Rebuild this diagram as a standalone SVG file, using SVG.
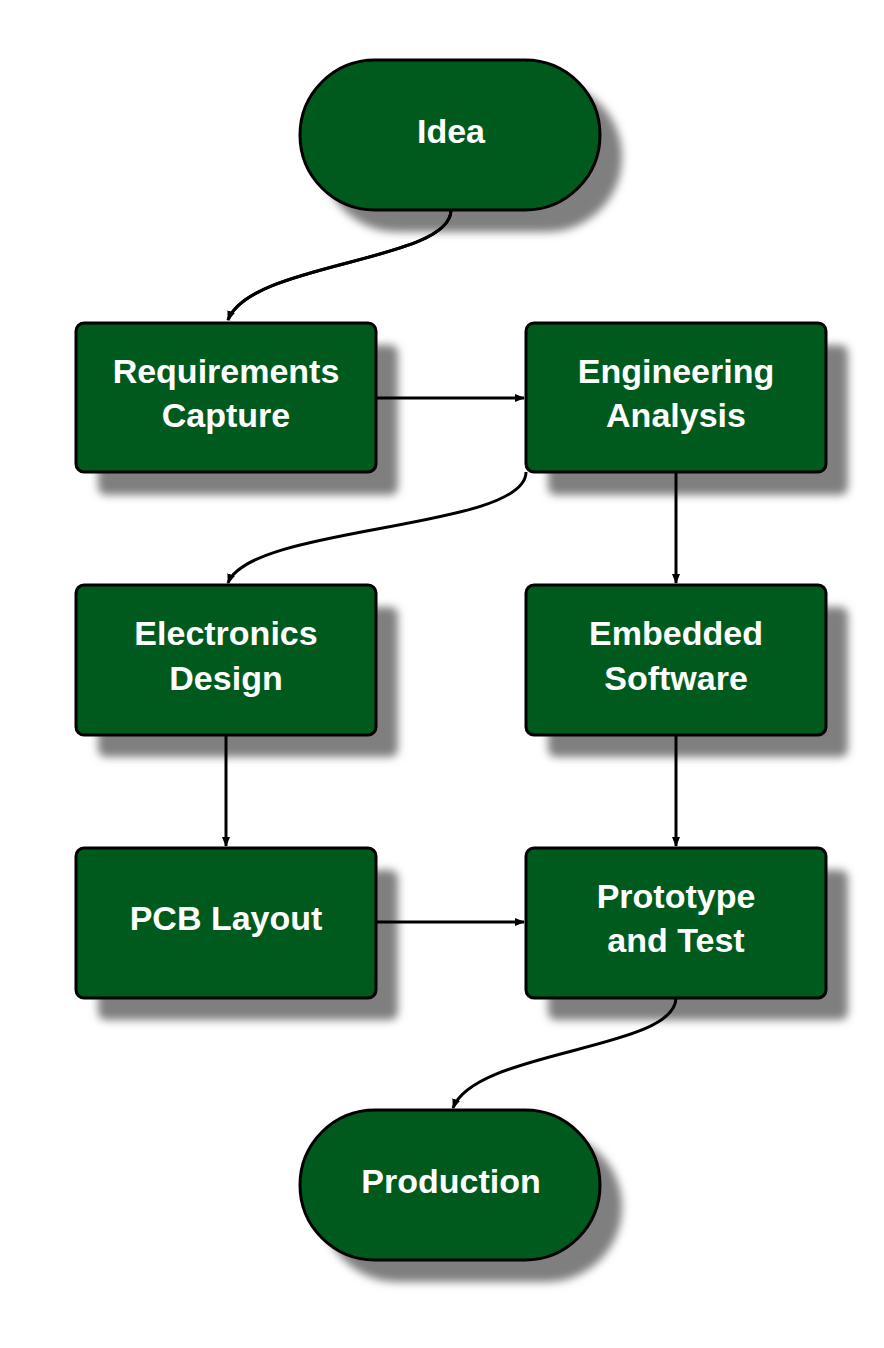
<svg xmlns="http://www.w3.org/2000/svg" width="884" height="1348" viewBox="0 0 884 1348">
<style>
.n{fill:#005a1e;stroke:#000;stroke-width:3}
.s{fill:#7f7f7f;filter:url(#b)}
.t{font-family:"Liberation Sans",Arial,sans-serif;font-weight:bold;font-size:34px;fill:#fff;text-anchor:middle}
.c{fill:none;stroke:#000;stroke-width:3;marker-end:url(#a)}
</style>
<defs>
<filter id="b" x="-20%" y="-20%" width="140%" height="140%"><feGaussianBlur stdDeviation="4"/></filter>
<marker id="a" markerWidth="10" markerHeight="8" refX="9" refY="4" orient="auto" markerUnits="userSpaceOnUse" viewBox="0 0 10 8"><path d="M0,0L10,4L0,8z" fill="#000"/></marker>
</defs>
<rect width="884" height="1348" fill="#fff"/>
<g id="shadows">
<rect class="s" x="322" y="82" width="300" height="150" rx="75"/>
<rect class="s" x="98" y="345" width="300" height="150" rx="8"/>
<rect class="s" x="548" y="345" width="300" height="150" rx="8"/>
<rect class="s" x="98" y="607" width="300" height="150" rx="8"/>
<rect class="s" x="548" y="607" width="300" height="150" rx="8"/>
<rect class="s" x="98" y="870" width="300" height="150" rx="8"/>
<rect class="s" x="548" y="870" width="300" height="150" rx="8"/>
<rect class="s" x="322" y="1132" width="300" height="150" rx="75"/>
</g>
<g id="connectors">
<path class="c" d="M451,210 C451,262 250,262 228,320" style="marker-end:none"/>
<path class="c" d="M451,210 C451,262 250,262 228,320"/>
<path class="c" d="M376,398 L524,398"/>
<path class="c" d="M526,472 C526,530 250,525 228,583"/>
<path class="c" d="M676,472 L676,583"/>
<path class="c" d="M226,735 L226,846"/>
<path class="c" d="M676,735 L676,846"/>
<path class="c" d="M376,922 L524,922"/>
<path class="c" d="M676,998 C676,1050 475,1050 453,1108"/>
</g>
<g id="idea"><rect class="n" x="300" y="60" width="300" height="150" rx="75"/><text class="t" x="451" y="143">Idea</text></g>
<g id="req"><rect class="n" x="76" y="323" width="300" height="149" rx="8"/><text class="t" x="226" y="383">Requirements</text><text class="t" x="226" y="427">Capture</text></g>
<g id="eng"><rect class="n" x="526" y="323" width="300" height="149" rx="8"/><text class="t" x="676" y="383">Engineering</text><text class="t" x="676" y="427">Analysis</text></g>
<g id="elec"><rect class="n" x="76" y="585" width="300" height="150" rx="8"/><text class="t" x="226" y="645">Electronics</text><text class="t" x="226" y="690">Design</text></g>
<g id="emb"><rect class="n" x="526" y="585" width="300" height="150" rx="8"/><text class="t" x="676" y="645">Embedded</text><text class="t" x="676" y="690">Software</text></g>
<g id="pcb"><rect class="n" x="76" y="848" width="300" height="150" rx="8"/><text class="t" x="226" y="930">PCB Layout</text></g>
<g id="proto"><rect class="n" x="526" y="848" width="300" height="150" rx="8"/><text class="t" x="676" y="908">Prototype</text><text class="t" x="676" y="952">and Test</text></g>
<g id="prod"><rect class="n" x="300" y="1110" width="300" height="150" rx="75"/><text class="t" x="451" y="1193">Production</text></g>
</svg>
